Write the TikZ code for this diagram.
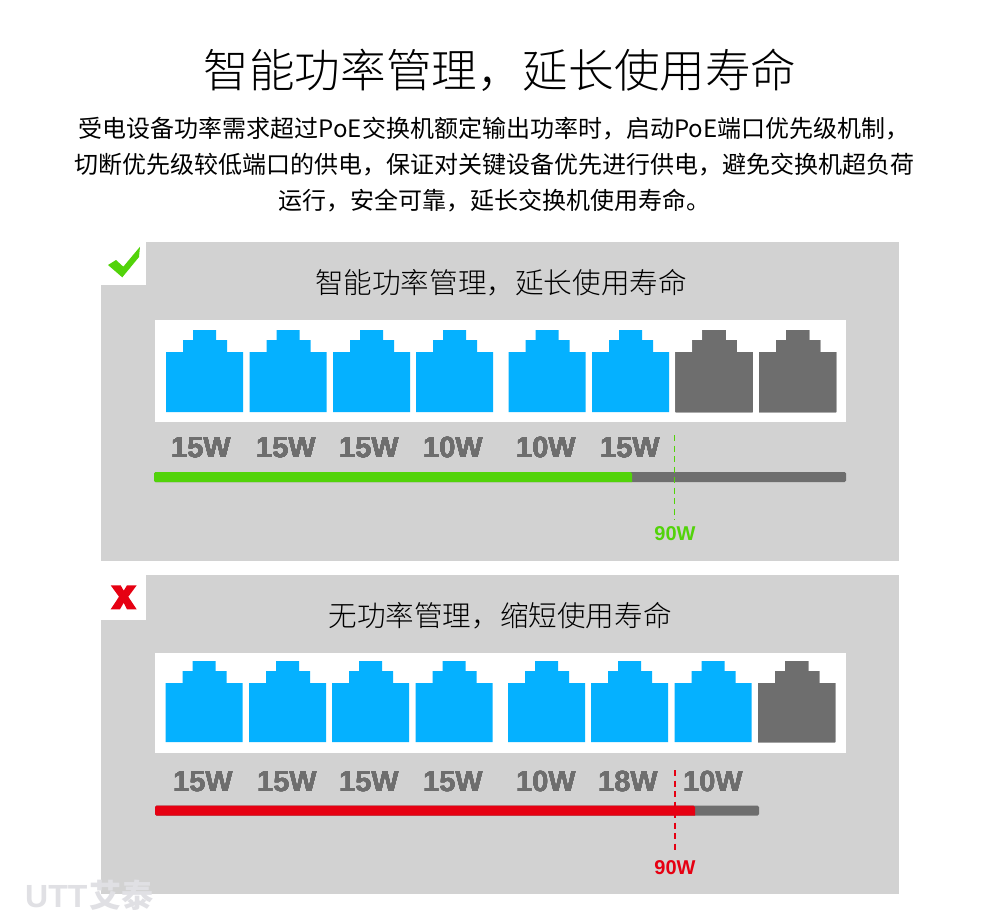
\documentclass[tikz,border=0pt]{standalone}
\usepackage{fontspec}
\setmainfont{Liberation Sans}
\newfontfamily\cjk{Noto Sans CJK SC}
\newfontfamily\cjklight{Noto Sans CJK SC Light}
\usetikzlibrary{positioning}
\definecolor{panelgray}{HTML}{D2D2D2}
\definecolor{portblue}{HTML}{05B1FF}
\definecolor{portgray}{HTML}{6E6E6E}
\definecolor{okgreen}{HTML}{52D30A}
\definecolor{badred}{HTML}{E60012}
\definecolor{markgray}{HTML}{E0E0E4}
\tikzset{
	panel/.style={fill=panelgray,draw=none},
	whitebox/.style={fill=white,draw=none},
	watt/.style={text=portgray,font=\fontsize{29}{29}\selectfont\bfseries,inner sep=0pt},
	limit/.style={font=\fontsize{20}{20}\selectfont\bfseries,inner sep=0pt},
	limitline/.style={line width=1.2pt,dash pattern=on 6pt off 4.5pt},
}
% one RJ45 port, #1 left edge, #2 top edge, #3 colour, #4 body height
\newcommand{\portshape}[4]{
	\fill[#3] (#1+27,#2) -- (#1+50,#2) -- (#1+50,#2+10) -- (#1+61,#2+10) -- (#1+61,#2+22) -- (#1+77,#2+22)
		-- (#1+77,#2+22+#4) -- (#1,#2+22+#4) -- (#1,#2+22) -- (#1+17,#2+22) -- (#1+17,#2+10) -- (#1+27,#2+10) -- cycle;
}
\begin{document}
\begin{tikzpicture}[x=1pt,y=-1pt]
	\useasboundingbox (0,0) rectangle (1000,922);
	\fill[white] (0,0) rectangle (1000,922);

	\node[inner sep=0pt] (MainTitle) at (500,70) {\cjklight\fontsize{45.6}{46}\selectfont 智能功率管理，延长使用寿命};
	\node[inner sep=0pt,align=center,font=\cjk\fontsize{24}{36}\selectfont] (MainText) at (494,165) {
		受电设备功率需求超过PoE交换机额定输出功率时，启动PoE端口优先级机制，\\
		切断优先级较低端口的供电，保证对关键设备优先进行供电，避免交换机超负荷\\
		运行，安全可靠，延长交换机使用寿命。};

	% upper panel
	\fill[panel] (101,242) rectangle (899,561);
	\fill[whitebox] (101,242) rectangle (146,285);
	\fill[okgreen] (108,265) -- (116,260) -- (123.3,266.7) -- (140,246.7) -- (139,257) -- (122.3,277.3) -- cycle;
	\node[inner sep=0pt] (GoodTitle) at (501,283) {\cjklight\fontsize{28.6}{29}\selectfont 智能功率管理，延长使用寿命};
	\fill[whitebox] (155,320) rectangle (846,422);
	\foreach \px in {166,249.5,333,416,508.5,592}
		\portshape{\px}{330}{portblue}{60}
	\foreach \px in {675.5,759}
		\portshape{\px}{330}{portgray}{60}
	\foreach \px/\wt in {201/15W,286/15W,369/15W,453/10W,546/10W,630/15W}
		\node[watt] (good\px) at (\px,447.5) {\wt};
	\fill[portgray,rounded corners=1.5pt] (154,472) rectangle (846,482);
	\fill[okgreen,rounded corners=1.5pt] (154,472) -- (632,472) [sharp corners] -- (632,482) [rounded corners=1.5pt] -- (154,482) -- cycle;
	\node[limit,text=okgreen] (GoodLimit) at (675,533.5) {90W};
	\coordinate (GoodTop) at (674.5,435);
	\coordinate (GoodEnd) at (674.5,520);
	\draw[limitline,draw=okgreen] (GoodTop) -- (GoodEnd);

	% lower panel
	\fill[panel] (101,575) rectangle (899,894);
	\fill[whitebox] (101,575) rectangle (146,620);
	\fill[badred] (110.7,585.3) -- (120.7,585.3) -- (123.7,590.7) -- (127,585.3) -- (136.7,585.3) -- (128.3,596.7) -- (136.7,609.3)
		-- (127,609.3) -- (123.7,602.7) -- (120,609.3) -- (110.7,609.3) -- (119,596.7) -- cycle;
	\node[inner sep=0pt] (BadTitle) at (500,616) {\cjklight\fontsize{28.6}{29}\selectfont 无功率管理，缩短使用寿命};
	\fill[whitebox] (155,653) rectangle (846,753);
	\foreach \px in {165.5,249,332,415.5,508,591,674.5}
		\portshape{\px}{661}{portblue}{59}
	\portshape{758}{661}{portgray}{59}
	\foreach \px/\wt in {203/15W,287/15W,369/15W,453/15W,546/10W,628/18W,713/10W}
		\node[watt] (bad\px) at (\px,781.5) {\wt};
	\fill[portgray,rounded corners=1.5pt] (155,805.5) rectangle (759,815.5);
	\fill[badred,rounded corners=1.5pt] (155,805.5) -- (695,805.5) [sharp corners] -- (695,815.5) [rounded corners=1.5pt] -- (155,815.5) -- cycle;
	\node[limit,text=badred] (BadLimit) at (675,867.5) {90W};
	\coordinate (BadTop) at (675,770);
	\coordinate (BadEnd) at (675,853);
	\draw[limitline,draw=badred] (BadTop) -- (BadEnd);

	\node[inner sep=0pt,text=markgray,anchor=west] (Mark) at (25,895) {\fontsize{32}{32}\selectfont\bfseries UTT\kern2pt{\cjk\bfseries 艾泰}};
\end{tikzpicture}
\end{document}
